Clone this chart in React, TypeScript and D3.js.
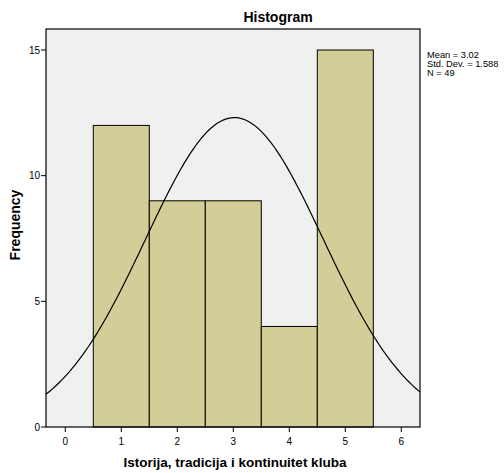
import * as d3 from "d3";

const binStarts = [0.5, 1.5, 2.5, 3.5, 4.5];
const counts = [12, 9, 9, 4, 15];
const xTicks = [0, 1, 2, 3, 4, 5, 6];
const yTicks = [0, 5, 10, 15];
const mean = 3.02;
const sd = 1.588;
const n = 49;
const statLines = ["Mean = 3.02", "Std. Dev. = 1.588", "N = 49"];

const W = 504;
const H = 473;
const plot = { left: 46, right: 420, top: 29, bottom: 427 };
const font = "Arial, 'Liberation Sans', sans-serif";

export default function App() {
  const x = d3.scaleLinear().domain([0, 6]).range([65.3, 401.3]);
  const y = d3.scaleLinear().domain([0, 15]).range([plot.bottom, 50]);

  // normal curve scaled to counts (bin width 1)
  const xMin = x.invert(plot.left);
  const xMax = x.invert(plot.right);
  const curvePts = d3.range(0, 201).map((i) => {
    const v = xMin + ((xMax - xMin) * i) / 200;
    const dens = Math.exp(-0.5 * ((v - mean) / sd) ** 2) / (sd * Math.sqrt(2 * Math.PI));
    return [v, n * 1 * dens] as [number, number];
  });
  const line = d3
    .line<[number, number]>()
    .x((d) => x(d[0]))
    .y((d) => y(d[1]));

  return (
    <svg
      width={W}
      height={H}
      style={{ position: "absolute", left: 0, top: 0, background: "#fff" }}
      fontFamily={font}
    >
      <text x={278} y={22} textAnchor="middle" fontSize={14} fontWeight="bold" fill="#000">
        Histogram
      </text>
      <rect
        x={plot.left}
        y={plot.top}
        width={plot.right - plot.left}
        height={plot.bottom - plot.top}
        fill="#f0f0f0"
      />
      {counts.map((c, i) => (
        <rect
          key={i}
          x={x(binStarts[i])}
          y={y(c)}
          width={x(binStarts[i] + 1) - x(binStarts[i])}
          height={y(0) - y(c)}
          fill="#d3ce97"
          stroke="#000"
          strokeWidth={1}
        />
      ))}
      <path d={line(curvePts) || ""} fill="none" stroke="#000" strokeWidth={1.2} />
      <rect
        x={plot.left}
        y={plot.top}
        width={plot.right - plot.left}
        height={plot.bottom - plot.top}
        fill="none"
        stroke="#000"
        strokeWidth={1.2}
      />
      {yTicks.map((t) => (
        <g key={t}>
          <line x1={plot.left - 5} x2={plot.left} y1={y(t)} y2={y(t)} stroke="#000" />
          <text x={plot.left - 6} y={y(t) + 3.5} textAnchor="end" fontSize={10} fill="#000">
            {t}
          </text>
        </g>
      ))}
      {xTicks.map((t) => (
        <g key={t}>
          <line x1={x(t)} x2={x(t)} y1={plot.bottom} y2={plot.bottom + 5} stroke="#000" />
          <text x={x(t)} y={plot.bottom + 18} textAnchor="middle" fontSize={10} fill="#000">
            {t}
          </text>
        </g>
      ))}
      <text x={235} y={467} textAnchor="middle" fontSize={13.5} fontWeight="bold" fill="#000">
        Istorija, tradicija i kontinuitet kluba
      </text>
      <text
        transform="translate(20,225) rotate(-90)"
        textAnchor="middle"
        fontSize={14}
        fontWeight="bold"
        fill="#000"
      >
        Frequency
      </text>
      {statLines.map((s, i) => (
        <text key={s} x={427} y={58 + i * 9} fontSize={9.3} fill="#000">
          {s}
        </text>
      ))}
    </svg>
  );
}
